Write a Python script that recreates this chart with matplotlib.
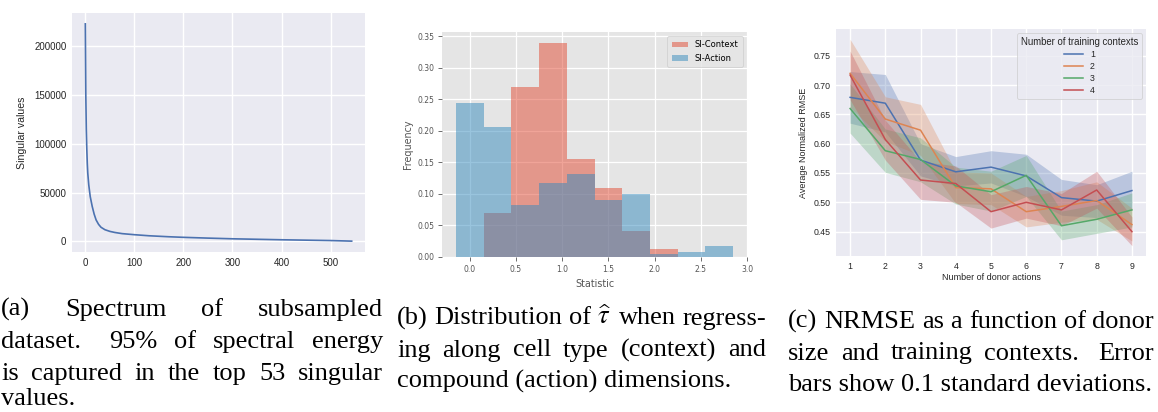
import matplotlib
matplotlib.use("Agg")
import matplotlib.pyplot as plt
import numpy as np

# ---------------- data ----------------
sv_index = [0, 1, 2, 3, 4, 5, 7, 10, 14, 18, 22, 27, 32, 40, 50, 60, 75, 100,
            130, 170, 200, 250, 300, 350, 400, 450, 500, 543]
sv_values = [223000, 150000, 115000, 95000, 80000, 70000, 58000, 46000, 36000,
             28000, 22000, 17500, 14500, 12000, 10300, 9200, 8000, 6900, 5800,
             4800, 4200, 3400, 2700, 2200, 1700, 1300, 900, 300]

hist_edges = [-0.15, 0.15, 0.45, 0.75, 1.05, 1.35, 1.65, 1.95, 2.25, 2.55, 2.85]
context_freq = [0.0, 0.070, 0.270, 0.340, 0.156, 0.110, 0.041, 0.013, 0.0, 0.0]
action_freq = [0.245, 0.207, 0.082, 0.117, 0.131, 0.091, 0.100, 0.004, 0.008, 0.018]
hist_labels = ["SI-Context", "SI-Action"]

donor_actions = [1, 2, 3, 4, 5, 6, 7, 8, 9]
context_labels = ["1", "2", "3", "4"]
nrmse_mean = [
    [0.679, 0.669, 0.572, 0.552, 0.560, 0.545, 0.508, 0.502, 0.520],
    [0.720, 0.642, 0.623, 0.525, 0.523, 0.484, 0.493, 0.503, 0.462],
    [0.660, 0.588, 0.573, 0.528, 0.518, 0.546, 0.460, 0.471, 0.487],
    [0.717, 0.607, 0.538, 0.532, 0.484, 0.500, 0.487, 0.521, 0.450],
]
nrmse_upper = [
    [0.723, 0.718, 0.600, 0.578, 0.588, 0.582, 0.539, 0.530, 0.553],
    [0.778, 0.680, 0.667, 0.552, 0.550, 0.510, 0.520, 0.535, 0.490],
    [0.702, 0.625, 0.610, 0.560, 0.553, 0.580, 0.485, 0.496, 0.516],
    [0.758, 0.640, 0.570, 0.562, 0.513, 0.527, 0.515, 0.553, 0.475],
]
nrmse_lower = [
    [0.635, 0.620, 0.545, 0.528, 0.533, 0.510, 0.478, 0.474, 0.487],
    [0.662, 0.604, 0.580, 0.498, 0.496, 0.458, 0.466, 0.471, 0.434],
    [0.618, 0.551, 0.535, 0.497, 0.485, 0.510, 0.436, 0.447, 0.458],
    [0.675, 0.572, 0.505, 0.500, 0.456, 0.473, 0.460, 0.490, 0.426],
]

caption_a = ["(a) Spectrum of subsampled", "dataset.  95% of spectral energy",
             "is captured in the top 53 singular", "values."]
caption_b = ["(b) Distribution of $\\widehat{\\tau}$ when regress-",
             "ing along cell type (context) and", "compound (action) dimensions."]
caption_c = ["(c) NRMSE as a function of donor", "size and training contexts.  Error",
             "bars show 0.1 standard deviations."]

# ---------------- figure ----------------
plt.rcParams["mathtext.fontset"] = "stix"
W, H = 1158, 412
fig = plt.figure(figsize=(W / 100, H / 100), dpi=100)
fig.patch.set_facecolor("white")


def px_axes(left, top, right, bottom):
    return fig.add_axes([left / W, 1 - bottom / H, (right - left) / W, (bottom - top) / H])


def darkgrid(ax, tick_size, font):
    ax.set_facecolor("#EAEAF2")
    for s in ax.spines.values():
        s.set_visible(False)
    ax.grid(True, color="white", linewidth=1.0)
    ax.set_axisbelow(True)
    ax.tick_params(length=0, pad=4, labelsize=tick_size, labelcolor="#262626")
    for lab in ax.get_xticklabels() + ax.get_yticklabels():
        lab.set_family(font)


sea_font = "Liberation Sans"
deep = ["#4C72B0", "#DD8452", "#55A868", "#C44E52"]

# ---- panel (a)
axa = px_axes(72, 13, 365, 252)
axa.plot(sv_index, sv_values, color=deep[0], linewidth=1.2)
axa.set_xticks([0, 100, 200, 300, 400, 500])
axa.set_yticks([0, 50000, 100000, 150000, 200000])
axa.set_ylabel("Singular values", fontsize=7.6, family=sea_font, color="#262626", labelpad=5)
darkgrid(axa, 7, sea_font)

# ---- panel (b) ggplot-like
axb = px_axes(442, 32, 747, 257)
axb.set_facecolor("#E5E5E5")
for s in axb.spines.values():
    s.set_visible(False)
centers = [(hist_edges[i] + hist_edges[i + 1]) / 2 for i in range(len(hist_edges) - 1)]
axb.hist(centers, bins=hist_edges, weights=context_freq, color="#E24A33", alpha=0.5,
         label=hist_labels[0])
axb.hist(centers, bins=hist_edges, weights=action_freq, color="#348ABD", alpha=0.5,
         label=hist_labels[1])
axb.grid(True, color="white", linewidth=0.9)
axb.set_axisbelow(True)
axb.set_xticks([0.0, 0.5, 1.0, 1.5, 2.0, 2.5, 3.0])
axb.set_yticks([0.0, 0.05, 0.10, 0.15, 0.20, 0.25, 0.30, 0.35])
axb.xaxis.set_major_formatter(matplotlib.ticker.FormatStrFormatter("%.1f"))
axb.yaxis.set_major_formatter(matplotlib.ticker.FormatStrFormatter("%.2f"))
axb.tick_params(direction="out", length=3, width=0.6, color="#555555",
                labelsize=5.5, labelcolor="#555555", pad=2.5)
axb.set_xlabel("Statistic", fontsize=6.9, color="#555555", labelpad=4)
axb.set_ylabel("Frequency", fontsize=6.9, color="#555555", labelpad=3)
legb = axb.legend(loc="upper right", fontsize=6, frameon=True, handlelength=2.0,
                  borderpad=0.5, labelspacing=0.5)
legb.get_frame().set_facecolor("#E5E5E5")
legb.get_frame().set_edgecolor("#CCCCCC")
legb.get_frame().set_linewidth(0.6)

# ---- panel (c)
axc = px_axes(836, 29, 1146, 256)
for i in range(4):
    axc.fill_between(donor_actions, nrmse_lower[i], nrmse_upper[i], color=deep[i],
                     alpha=0.3, linewidth=0)
    axc.plot(donor_actions, nrmse_mean[i], color=deep[i], linewidth=1.1,
             label=context_labels[i])
axc.set_xticks(donor_actions)
axc.set_yticks([0.45, 0.50, 0.55, 0.60, 0.65, 0.70, 0.75])
axc.set_xlabel("Number of donor actions", fontsize=6.5, family=sea_font,
               color="#262626", labelpad=2)
axc.set_ylabel("Average Normalized RMSE", fontsize=6.5, family=sea_font,
               color="#262626", labelpad=4)
darkgrid(axc, 6.3, sea_font)
legc = axc.legend(title="Number of training contexts", loc="upper right",
                  prop={"family": sea_font, "size": 6.3},
                  title_fontproperties={"family": sea_font, "size": 6.9},
                  frameon=True, handlelength=2.2, borderpad=0.4, labelspacing=0.35)
legc.get_frame().set_facecolor("#EAEAF2")
legc.get_frame().set_edgecolor("#CCCCCC")
legc.get_frame().set_linewidth(0.6)
legc.get_title().set_color("#262626")
for t in legc.get_texts():
    t.set_color("#262626")

# ---------------- captions (justified) ----------------
renderer = fig.canvas.get_renderer()
cap_font = dict(family="Liberation Serif", size=19, color="black")


def caption(lines, x0, x1, baselines, justify):
    for line, yb, just in zip(lines, baselines, justify):
        y = 1 - yb / H
        if not just:
            fig.text(x0 / W, y, line, va="baseline", ha="left", **cap_font)
            continue
        # sentence gaps (double spaces) get a wider share of the stretch
        chunks = line.split(" ")
        words, weights = [], []
        pending = 1.0
        for c in chunks:
            if c == "":
                pending = 1.7
                continue
            if words:
                weights.append(pending)
            words.append(c)
            pending = 1.0
        texts = [fig.text(0, y, w, va="baseline", ha="left", **cap_font) for w in words]
        widths = [t.get_window_extent(renderer).width for t in texts]
        unit = (x1 - x0 - sum(widths)) / max(sum(weights), 1)
        x = x0
        for k, (t, w) in enumerate(zip(texts, widths)):
            t.set_x(x / W)
            if k < len(weights):
                x += w + unit * weights[k]


caption(caption_a, 1, 383, [316, 348, 380, 405], [True, True, True, False])
caption(caption_b, 397, 766, [324.5, 356.5, 388], [True, True, False])
caption(caption_c, 788, 1154, [328, 359.5, 391], [True, True, False])

fig.savefig("out.png", dpi=100)
